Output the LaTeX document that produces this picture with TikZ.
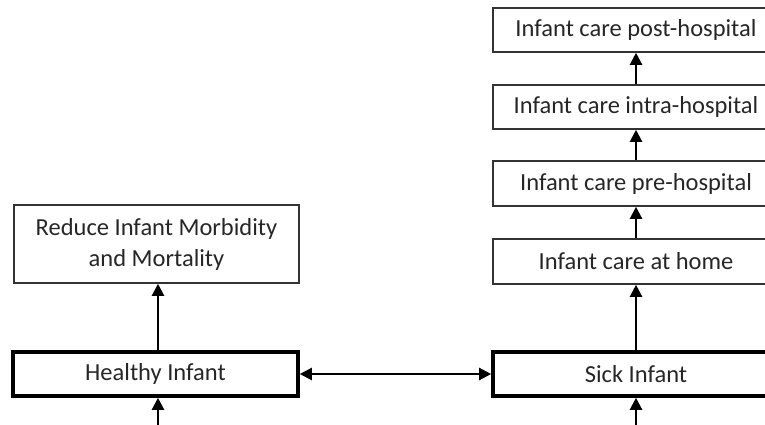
\documentclass[tikz,border=0pt]{standalone}
\usepackage{fontspec}
\setmainfont{Carlito}
\usetikzlibrary{arrows.meta}
\begin{document}
\begin{tikzpicture}[x=1pt,y=-1pt,
  box/.style={draw=black!80, line width=1.6pt, rectangle, inner sep=0pt, align=center,
    text=black!85, font=\fontsize{24.5}{31}\selectfont, minimum width=286pt},
  thickbox/.style={box, draw=black, line width=3.6pt},
  arr/.style={draw=black, line width=2.2pt, -{Triangle[width=12pt,length=12pt]}},
  darr/.style={draw=black, line width=2.2pt, {Triangle[width=12pt,length=12pt]}-{Triangle[width=12pt,length=12pt]}}]
\useasboundingbox (0,0) rectangle (765,425);
\clip (0,0) rectangle (765,425);
\node[box, minimum height=44pt] (post) at (636,30) {Infant care post-hospital};
\node[box, minimum height=44pt] (intra) at (636,107) {Infant care intra-hospital};
\node[box, minimum height=45pt] (pre) at (636,183.5) {Infant care pre-hospital};
\node[box, minimum height=45pt] (home) at (636,261.5) {Infant care at home};
\node[thickbox, minimum height=44pt] (sick) at (636,374) {Sick Infant};
\node[box, minimum height=78pt, minimum width=285pt] (reduce) at (156.5,244) {Reduce Infant Morbidity\\and Mortality};
\node[thickbox, minimum height=44pt, minimum width=285pt] (healthy) at (155.5,374) {Healthy Infant};
\coordinate (hin) at (158,430);
\coordinate (sin) at (636,430);
\draw[arr] (hin) -- (hin |- healthy.south);
\draw[arr] (sin) -- (sick.south);
\draw[arr] ([xshift=2.5pt]healthy.north) -- ([xshift=2.5pt]healthy.north |- reduce.south);
\draw[arr] (sick.north) -- (home.south);
\draw[arr] (home.north) -- (pre.south);
\draw[arr] (pre.north) -- (intra.south);
\draw[arr] (intra.north) -- (post.south);
\draw[darr] (healthy.east) -- (sick.west);
\end{tikzpicture}
\end{document}
